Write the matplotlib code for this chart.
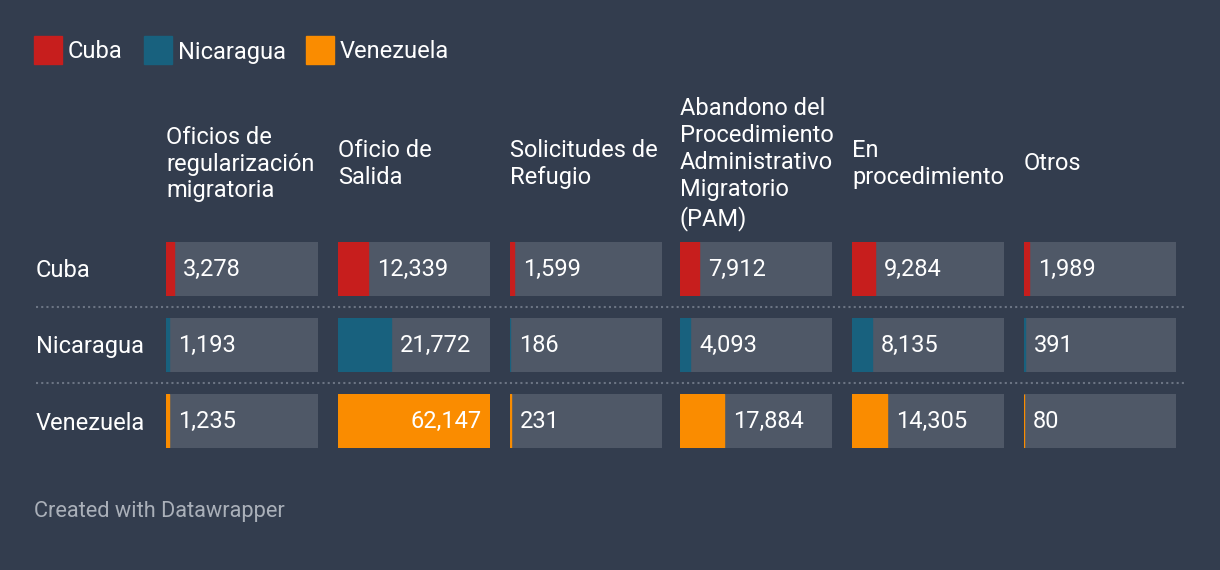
# Datawrapper-style small multiples: trámites por nacionalidad

import matplotlib.pyplot as plt

plt.rcParams['font.family'] = ['Roboto', 'DejaVu Sans']

# Datos
categorias = ["Oficios de\nregularización\nmigratoria", "Oficio de\nSalida",
              "Solicitudes de\nRefugio",
              "Abandono del\nProcedimiento\nAdministrativo\nMigratorio\n(PAM)",
              "En\nprocedimiento", "Otros"]
paises = ["Cuba", "Nicaragua", "Venezuela"]
cuba = [3278, 12339, 1599, 7912, 9284, 1989]
nicaragua = [1193, 21772, 186, 4093, 8135, 391]
venezuela = [1235, 62147, 231, 17884, 14305, 80]
valores = [cuba, nicaragua, venezuela]

# Estilo
BG = "#333d4e"
CELDA = "#4f5867"
colores = ["#c71e1d", "#18617e", "#fa8c00"]
W, H = 1220, 570

fig = plt.figure(figsize=(W / 100, H / 100), dpi=100, facecolor=BG)


def fx(x):
    return x / W


def fy(y):
    return 1 - y / H


vmax = max(max(v) for v in valores)
col_x = [166, 338, 510, 680, 852, 1024]
col_w = 152
row_y = [242, 318, 394]
row_h = 54
fs = 17

# Leyenda
leg_x = [34, 144, 306]
for lx, pais, c in zip(leg_x, paises, colores):
    fig.patches.append(plt.Rectangle((fx(lx), fy(64)), 28 / W, 28 / H,
                                     transform=fig.transFigure, color=c))
    fig.text(fx(lx + 34), fy(52), pais, color="white", fontsize=fs, va="center")

# Encabezados de columna
for x, cat in zip(col_x, categorias):
    fig.text(fx(x), fy(164), cat, color="white", fontsize=fs, va="center",
             ha="left", linespacing=1.22)

# Celdas
for i, (pais, fila) in enumerate(zip(paises, valores)):
    y0 = row_y[i]
    fig.text(fx(36), fy(y0 + row_h / 2 + 2), pais, color="white", fontsize=fs,
             va="center")
    for j, v in enumerate(fila):
        ax = fig.add_axes([fx(col_x[j]), fy(y0 + row_h), col_w / W, row_h / H])
        ax.set_facecolor(CELDA)
        ax.barh(0.5, v, height=1, color=colores[i], edgecolor=colores[i],
                linewidth=1)
        ax.set_xlim(0, vmax)
        ax.set_ylim(0, 1)
        ax.set_xticks([])
        ax.set_yticks([])
        for s in ax.spines.values():
            s.set_visible(False)
        if v / vmax > 0.7:
            ax.annotate(f"{v:,}", (v, 0.5), xytext=(-8, 0),
                        textcoords="offset pixels", ha="right", va="center",
                        color="white", fontsize=fs)
        else:
            ax.annotate(f"{v:,}", (v, 0.5), xytext=(9, 0),
                        textcoords="offset pixels", ha="left", va="center",
                        color="white", fontsize=fs)

# Separadores punteados
for y in [307, 383]:
    fig.add_artist(plt.Line2D([fx(36), fx(1184)], [fy(y), fy(y)],
                              transform=fig.transFigure, color="#6b7483",
                              linewidth=1.5, linestyle=(0, (1, 1.5))))

fig.text(fx(34), fy(512), "Created with Datawrapper", color="#aab0b9",
         fontsize=15.7, va="center")

fig.savefig("out.png", dpi=100, facecolor=BG)
